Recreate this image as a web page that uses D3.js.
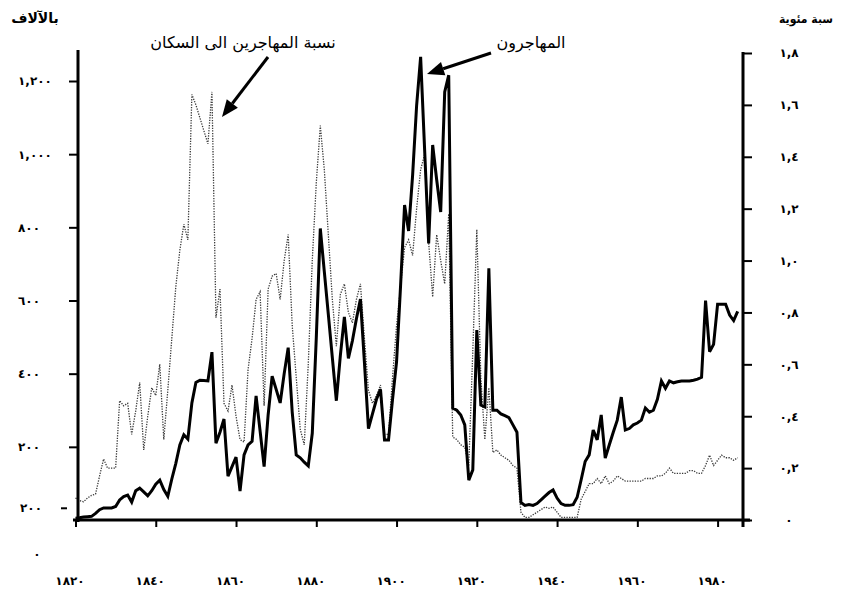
<!DOCTYPE html>
<html>
<head>
<meta charset="utf-8">
<script src="https://cdn.jsdelivr.net/npm/d3@7"></script>
<style>
  body { margin: 0; background: #fff; }
  svg { display: block; }
</style>
</head>
<body>
<svg id="chart" width="842" height="590"></svg>
<script>
// immigration to the US, yearly from 1820
var firstYear = 1820;

// immigrants, thousands (solid line, left axis)
var immigrants = [
    5, 6, 8, 9, 10, 18, 28, 33, 33, 33,            // 1820s
    37, 55, 64, 68, 49, 80, 87, 77, 66, 80,        // 1830s
    98, 109, 83, 65, 112, 155, 205, 233, 221, 320, // 1840s
    376, 382, 381, 380, 459, 210, 240, 276, 120, 146,
    172, 79, 178, 205, 215, 339, 243, 146, 287, 393,
    357, 320, 400, 471, 295, 178, 170, 158, 148, 237,
    498, 797, 679, 562, 444, 326, 450, 555, 442, 490,
    550, 604, 430, 250, 290, 330, 357, 219, 219, 330,
    432, 640, 861, 790, 942, 1133, 1266, 1011, 756, 1025,
    930, 842, 1170, 1216, 306, 300, 287, 260, 109, 137,
    519, 314, 309, 688, 300, 300, 290, 285, 280, 260,
    240, 48, 40, 42, 40, 45, 55, 65, 75, 82,
    60, 45, 40, 40, 42, 62, 110, 160, 178, 246,
    219, 287, 169, 205, 240, 273, 336, 246, 250, 260,
    265, 273, 306, 295, 300, 330, 380, 360, 380, 375,
    378, 380, 380, 380, 382, 385, 390, 600, 460, 480,
    590, 590, 590, 560, 545, 570
];

// immigrants as percent of population (dotted line, right axis)
var ratio = [
    0.085, 0.075, 0.07, 0.085, 0.095, 0.10, 0.17, 0.235, 0.20, 0.20,
    0.20, 0.46, 0.44, 0.45, 0.33, 0.42, 0.53, 0.27, 0.40, 0.51,
    0.48, 0.60, 0.31, 0.50, 0.70, 0.90, 1.04, 1.14, 1.08, 1.64,
    1.60, 1.55, 1.50, 1.45, 1.65, 0.78, 0.89, 0.45, 0.42, 0.52,
    0.40, 0.31, 0.30, 0.58, 0.70, 0.85, 0.88, 0.44, 0.89, 0.94,
    0.95, 0.85, 1.00, 1.10, 0.75, 0.55, 0.35, 0.29, 0.60, 1.00,
    1.30, 1.52, 1.35, 1.10, 0.85, 0.67, 0.87, 0.91, 0.80, 0.76,
    0.85, 0.91, 0.70, 0.50, 0.45, 0.48, 0.52, 0.33, 0.33, 0.55,
    0.75, 0.90, 1.05, 1.08, 1.02, 1.20, 1.35, 1.41, 1.07, 0.86,
    1.10, 1.00, 0.91, 1.18, 0.32, 0.31, 0.29, 0.28, 0.21, 0.65,
    1.12, 0.55, 0.31, 0.51, 0.26, 0.27, 0.25, 0.24, 0.23, 0.21,
    0.20, 0.03, 0.01, 0.01, 0.02, 0.03, 0.04, 0.05, 0.045, 0.05,
    0.03, 0.01, 0.01, 0.01, 0.01, 0.01, 0.08, 0.11, 0.14, 0.14,
    0.16, 0.14, 0.17, 0.14, 0.15, 0.17, 0.16, 0.15, 0.15, 0.15,
    0.15, 0.15, 0.16, 0.16, 0.16, 0.17, 0.17, 0.18, 0.20, 0.18,
    0.18, 0.18, 0.18, 0.19, 0.19, 0.18, 0.18, 0.21, 0.25, 0.21,
    0.23, 0.25, 0.24, 0.24, 0.23, 0.24
];

var yearTicks = [1820, 1840, 1860, 1880, 1900, 1920, 1940, 1960, 1980];
var yearLabels = ["١٨٢٠", "١٨٤٠", "١٨٦٠", "١٨٨٠", "١٩٠٠", "١٩٢٠", "١٩٤٠", "١٩٦٠", "١٩٨٠"];

var leftTicks = [200, 400, 600, 800, 1000, 1200];
var leftLabels = ["٢٠٠", "٤٠٠", "٦٠٠", "٨٠٠", "١,٠٠٠", "١,٢٠٠"];

var rightTicks = [0, 0.2, 0.4, 0.6, 0.8, 1.0, 1.2, 1.4, 1.6, 1.8];
var rightLabels = ["٠", "٠,٢", "٠,٤", "٠,٦", "٠,٨", "١,٠", "١,٢", "١,٤", "١,٦", "١,٨"];

var leftTitle = "بالآلاف";
var rightTitle = "سبة مئوية";
var ratioNote = "نسبة المهاجرين الى السكان";
var immigrantsNote = "المهاجرون";

var years = immigrants.map(function (d, i) { return firstYear + i; });

var svg = d3.select("#chart");
var arabicFont = "'DejaVu Sans', sans-serif";

var x = d3.scaleLinear().domain([1820, 1980]).range([75.5, 717.6]);
var yLeft = d3.scaleLinear().domain([0, 1200]).range([520, 81]);
var yRight = d3.scaleLinear().domain([0, 1.8]).range([520, 53]);

var axisX0 = 78, axisX1 = 743, axisY = 520;

//////////// lines ////////////
var ratioLine = d3.line()
    .x(function (d, i) { return x(years[i]); })
    .y(function (d) { return yRight(d); });

svg.append("path")
    .datum(ratio)
    .attr("d", ratioLine)
    .style("fill", "none")
    .style("stroke", "#3a3a3a")
    .style("stroke-width", 1.3)
    .style("stroke-dasharray", "1.3,1.3");

var immigrantsLine = d3.line()
    .x(function (d, i) { return x(years[i]); })
    .y(function (d) { return yLeft(d); });

svg.append("path")
    .datum(immigrants)
    .attr("d", immigrantsLine)
    .style("fill", "none")
    .style("stroke", "#000")
    .style("stroke-width", 3)
    .style("stroke-linejoin", "miter")
    .style("stroke-miterlimit", 3);

//////////// axes ////////////
var leftAxis = svg.append("g")
    .attr("transform", "translate(" + axisX0 + ",0)")
    .call(d3.axisLeft(yLeft).tickValues(leftTicks).tickSize(9)
        .tickFormat(function (d, i) { return leftLabels[i]; }));
leftAxis.select(".domain").remove();
leftAxis.selectAll(".tick line").style("stroke", "#000").style("stroke-width", 2);
leftAxis.selectAll(".tick text")
    .attr("x", -60)
    .style("text-anchor", "start")
    .style("font-family", arabicFont)
    .style("font-size", "12px")
    .style("font-weight", "bold");

var rightAxis = svg.append("g")
    .attr("transform", "translate(" + axisX1 + ",0)")
    .call(d3.axisRight(yRight).tickValues(rightTicks).tickSize(9)
        .tickFormat(function (d, i) { return rightLabels[i]; }));
rightAxis.select(".domain").remove();
rightAxis.selectAll(".tick line").style("stroke", "#000").style("stroke-width", 2);
rightAxis.selectAll(".tick text")
    .attr("x", 46)
    .style("text-anchor", "middle")
    .style("letter-spacing", "1px")
    .style("font-family", arabicFont)
    .style("font-size", "12px")
    .style("font-weight", "bold");

var bottomAxis = svg.append("g")
    .attr("transform", "translate(0," + axisY + ")")
    .call(d3.axisBottom(x).tickValues(yearTicks).tickSize(7)
        .tickFormat(function (d, i) { return yearLabels[i]; }));
bottomAxis.select(".domain").remove();
bottomAxis.selectAll(".tick line").style("stroke", "#000").style("stroke-width", 2);
bottomAxis.selectAll(".tick text")
    .attr("y", 56)
    .attr("dx", -6)
    .style("font-family", arabicFont)
    .style("font-size", "12px")
    .style("font-weight", "bold");

// heavy frame lines
svg.append("line").attr("x1", axisX0).attr("x2", axisX0).attr("y1", 50).attr("y2", axisY + 2)
    .style("stroke", "#000").style("stroke-width", 3);
svg.append("line").attr("x1", axisX1).attr("x2", axisX1).attr("y1", 52).attr("y2", axisY + 7)
    .style("stroke", "#000").style("stroke-width", 3);
svg.append("line").attr("x1", axisX0 - 5).attr("x2", axisX1 + 7).attr("y1", axisY).attr("y2", axisY)
    .style("stroke", "#000").style("stroke-width", 3);

// stray labels printed on the original left axis
var strayY = yLeft(32);
svg.append("text")
    .attr("x", 20).attr("y", strayY + 4)
    .style("font-family", arabicFont).style("font-size", "12px").style("font-weight", "bold")
    .text("٢٠٠");
svg.append("line")
    .attr("x1", 61).attr("x2", 67).attr("y1", strayY).attr("y2", strayY)
    .style("stroke", "#000").style("stroke-width", 2);
svg.append("text")
    .attr("x", 37).attr("y", 558)
    .style("font-family", arabicFont).style("font-size", "12px").style("font-weight", "bold")
    .attr("text-anchor", "middle")
    .text("٠");

//////////// titles and notes ////////////
svg.append("text")
    .attr("x", 35).attr("y", 23)
    .attr("text-anchor", "middle")
    .style("font-family", arabicFont).style("font-size", "14px").style("font-weight", "bold")
    .text(leftTitle);
svg.append("text")
    .attr("x", 806).attr("y", 23)
    .attr("text-anchor", "middle")
    .attr("textLength", 54)
    .attr("lengthAdjust", "spacingAndGlyphs")
    .style("font-family", arabicFont).style("font-size", "12px").style("font-weight", "bold")
    .text(rightTitle);

svg.append("text")
    .attr("x", 243).attr("y", 48)
    .attr("text-anchor", "middle")
    .style("font-family", arabicFont).style("font-size", "16px")
    .text(ratioNote);
svg.append("text")
    .attr("x", 531).attr("y", 48)
    .attr("text-anchor", "middle")
    .style("font-family", arabicFont).style("font-size", "16px")
    .text(immigrantsNote);

// arrows pointing at the two series
function arrow(from, to) {
    var dx = to[0] - from[0], dy = to[1] - from[1];
    var len = Math.sqrt(dx * dx + dy * dy);
    var ux = dx / len, uy = dy / len;
    var headLen = 17, headHalf = 7;
    var bx = to[0] - ux * headLen, by = to[1] - uy * headLen;
    svg.append("line")
        .attr("x1", from[0]).attr("y1", from[1])
        .attr("x2", bx).attr("y2", by)
        .style("stroke", "#000").style("stroke-width", 3);
    svg.append("path")
        .attr("d", "M" + to[0] + "," + to[1] +
            "L" + (bx - uy * headHalf) + "," + (by + ux * headHalf) +
            "L" + (bx + uy * headHalf) + "," + (by - ux * headHalf) + "Z")
        .style("fill", "#000");
}
arrow([268, 57], [222, 117]);
arrow([491, 53], [427, 74]);
</script>
</body>
</html>
